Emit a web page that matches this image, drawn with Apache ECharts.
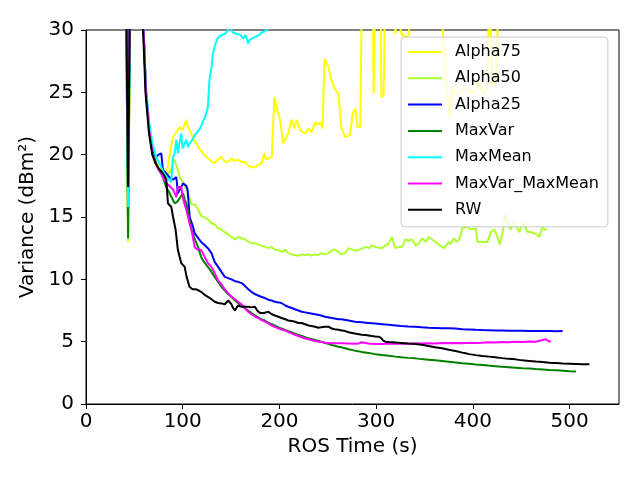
<!DOCTYPE html>
<html>
<head>
<meta charset="utf-8">
<script src="https://cdn.jsdelivr.net/npm/echarts@6/dist/echarts.min.js"></script>
<style>
  html, body { margin: 0; padding: 0; background: #fff; }
  #main { width: 640px; height: 480px; }
</style>
</head>
<body>
<div id="main"></div>
<script>
// [time (s), variance (dBm²)]
var alpha75 = [[40,45],[43.5,13.0],[47,45],[57,36],[59.5,30],[62,25],[65.5,22],[69,20.2],[72.5,19.4],[76,18.9],[79.5,18.5],[83,18.3],[86,19.8],[90,21.4],[93.4,21.8],[96.8,22.2],[100,22.0],[103.7,22.8],[105.5,22.2],[107.2,22.0],[110.7,21.3],[114,20.9],[117,20.5],[121,20.1],[125,19.8],[129,19.5],[133,19.3],[136,19.6],[140,19.8],[143,19.5],[147,19.4],[150,19.7],[154,19.5],[157,19.6],[161,19.4],[165,19.4],[168,19.1],[171,19.0],[175,19.0],[178,19.2],[181.5,19.3],[184,20.1],[186,19.6],[188.5,19.7],[192,19.8],[194.7,24.6],[198,23.5],[200.5,22.8],[204,20.9],[207,21.4],[209,21.7],[212.7,22.8],[215.4,22.1],[217.8,22.8],[221.3,22.0],[224,21.8],[226.5,21.7],[230,22.1],[233.4,21.8],[236.8,22.6],[239,22.4],[242,22.6],[244.5,22.1],[246.5,27.7],[250.7,27.0],[253.5,26.0],[257.6,25.2],[261,24.9],[263.8,22.2],[268,21.4],[273,21.6],[275.6,23.3],[278.3,23.7],[281,22.2],[283.5,22.2],[286,38],[292,40],[296,38],[297.4,24.9],[300,38],[304,38],[305.3,24.6],[307.7,24.8],[310,38],[316,36],[319.8,29.7],[322,31.5],[326,29.7],[330,29.4],[333.6,29.6],[337,33],[345,36],[355,34],[364,35],[368,31],[372,26],[376,23.0],[378.6,25.4],[382,25.0],[385.5,24.9],[389,25.3],[392,25.4],[396,25.0],[399,24.9],[403,25.3],[406,25.9],[409,25.1],[412,24.8],[415,25.5],[417,34],[420,25.5],[424,26],[427,34],[432,38],[440,36]];
var alpha50 = [[40,45],[43.5,13.2],[47,45],[57,36],[59,30],[61,27],[63.5,23.5],[66,21.2],[71,19.3],[76,18.8],[80,18.5],[84,18.3],[88,18.8],[91.5,19.6],[94,19.0],[96.8,18.2],[100,17.8],[103.7,17.2],[106,16.8],[109,16.0],[112.3,16.0],[116,15.6],[119,15.1],[122,15.0],[126,14.8],[129.7,14.5],[133,14.4],[136.6,14.1],[140,14.0],[143,13.8],[147,13.6],[150.4,13.4],[154,13.2],[157,13.4],[160.8,13.3],[165,13.2],[168,13.0],[171,12.9],[175,12.9],[178,12.8],[181,12.7],[185,12.6],[189,12.5],[192,12.6],[195,12.4],[199,12.35],[203,12.2],[206,12.4],[209,12.1],[212.7,12.0],[216,11.95],[220,11.9],[223,12.0],[226.5,11.95],[230,12.0],[233,11.9],[236,12.0],[240,11.95],[243,12.1],[247,12.0],[250.7,12.1],[254,12.3],[257,12.4],[261,12.2],[264,12.0],[268,12.1],[271.5,12.5],[275,12.4],[278,12.3],[282,12.35],[286,12.5],[290,12.6],[293,12.5],[295.6,12.75],[299,12.6],[302,12.55],[306,12.5],[309,12.7],[312,12.8],[314,12.9],[316.4,13.4],[318,13.3],[319.5,12.5],[323,12.6],[327,12.6],[330,13.2],[333.6,13.1],[337,13.2],[341,12.7],[344,12.9],[347.5,13.3],[351,13.0],[354.4,13.4],[358,13.2],[363,12.9],[366,12.7],[370,12.5],[373,12.8],[375,13.0],[377,12.8],[380,13.3],[383,13.0],[386,13.2],[389,14.1],[394,14.2],[398,14.0],[403,14.1],[404.6,13.0],[410,13.0],[415,13.0],[418.4,13.8],[422,14.0],[425.3,13.4],[427.7,12.8],[430.5,13.7],[434,15.3],[436,14.5],[439,14.0],[442.6,14.6],[445,14.2],[448,13.8],[451,14.5],[454,14.2],[456.4,13.8],[460,13.8],[463,13.7],[466,13.6],[468.5,13.4],[472,14.2],[474,14.0],[477,14.0]];
var alpha25 = [[40,45],[43.5,18.0],[47,45],[57,36],[59.5,30],[62,25],[65.5,22],[69,20.3],[72.6,19.8],[75,20.0],[77.8,20.1],[79.5,18.8],[83,18.5],[86,18.2],[90,18.0],[93.4,18.2],[95,16.9],[98.5,17.4],[100.3,17.7],[103.7,17.5],[105,17.2],[107.2,15.0],[110.7,14.2],[112.3,13.7],[116,13.3],[119,13.0],[122,12.8],[126,12.5],[129.7,12.1],[133,11.4],[136.6,11.0],[140,10.6],[143.5,10.2],[147,10.1],[150.4,10.0],[154,9.85],[157,9.8],[160.8,9.7],[164,9.5],[167.7,9.2],[171,9.0],[175,8.8],[178,8.7],[181,8.6],[185,8.5],[189,8.35],[192,8.3],[195,8.2],[199,8.15],[202,8.1],[206,7.9],[209,7.8],[212.7,7.7],[216,7.6],[219.6,7.5],[223,7.4],[226.5,7.35],[230,7.3],[236.8,7.2],[243,7.1],[247,7.0],[254,6.9],[261,6.8],[264,6.8],[271.5,6.7],[278,6.6],[285,6.55],[292,6.5],[299,6.45],[306,6.4],[313,6.35],[320,6.3],[326,6.25],[333,6.22],[340.5,6.2],[347,6.15],[354,6.12],[361,6.1],[368,6.08],[375,6.07],[382,6.05],[389,6.0],[396,5.98],[403,5.95],[409.7,5.93],[416,5.92],[423,5.9],[430,5.9],[437,5.88],[444,5.88],[451,5.88],[458,5.86],[465,5.86],[472,5.85],[479,5.85],[486,5.84],[492.7,5.85]];
var maxVar = [[40,45],[43.5,13.3],[47,45],[57,36],[59.5,30],[62,25],[65.5,22],[69,20.2],[72.6,19.3],[76,18.7],[79.5,18.2],[83,17.4],[86.4,16.9],[89,16.5],[91.6,16.1],[94,16.2],[96.8,16.5],[100.3,16.9],[102,16.4],[104,16.0],[106,15.2],[109,14.0],[112,13.3],[115.8,12.6],[119,11.8],[122,11.4],[126,11.0],[129.7,10.6],[133,10.2],[136.6,9.8],[140,9.4],[143.5,9.1],[147,8.8],[150.4,8.6],[154,8.3],[157,8.1],[160.8,7.9],[164,7.7],[167.7,7.5],[171,7.3],[175,7.1],[178,6.95],[181,6.8],[185,6.7],[189,6.5],[192,6.4],[195,6.3],[199,6.15],[202,6.07],[206,5.95],[209,5.85],[212.7,5.75],[216,5.65],[219.6,5.53],[223,5.45],[226.5,5.35],[230,5.27],[236.8,5.13],[243,5.0],[247,4.9],[254,4.73],[261,4.6],[264,4.55],[271.5,4.39],[278,4.28],[285,4.18],[292,4.1],[299,4.0],[306,3.93],[313,3.87],[320,3.8],[326,3.75],[333,3.7],[340.5,3.66],[347,3.6],[354,3.55],[361,3.5],[368,3.45],[375,3.39],[382,3.33],[389,3.27],[396,3.22],[403,3.17],[409.7,3.13],[416,3.08],[423,3.03],[430,2.98],[437,2.95],[444,2.91],[451,2.87],[458,2.84],[465,2.8],[472,2.77],[479,2.73],[486,2.7],[493,2.67],[500,2.63],[506.5,2.6]];
var maxMean = [[40,45],[43.5,15.8],[47,45],[57,36],[59.5,30],[62,25.5],[65.5,22.5],[69,20.8],[72.6,19.8],[76,19.3],[79.5,18.7],[83,18.2],[86,18.0],[88,17.8],[90,19.8],[91.6,20.1],[93.4,21.2],[95,20.1],[96.8,21.0],[98.5,21.7],[100,20.5],[102,20.5],[103.7,21.2],[105.5,20.6],[107,20.9],[110,21.2],[112,21.5],[114,21.7],[115.8,21.7],[118,22.1],[120,22.5],[123,23.0],[126,23.8],[127.6,26.0],[129.7,27.0],[131,28.0],[133,28.7],[136,29.3],[138,29.5],[140,29.6],[143.5,29.7],[146,29.9],[148,30.3],[150,30.2],[152,29.8],[154,29.9],[156,29.7],[158,29.8],[160,29.6],[162.5,29.3],[165,29.6],[167.7,28.9],[169,29.2],[171,29.2],[174,29.4],[176,29.5],[179,29.6],[181.5,29.8],[185,29.9],[188.5,30.1],[195,31.0]];
var maxVarMaxMean = [[40,45],[43.5,19.0],[47,45],[57,36],[59.5,30],[62,25],[65.5,21.8],[69,20.0],[72.6,19.2],[75,18.8],[77.8,18.5],[80,18.1],[83,17.7],[86,17.5],[90,17.2],[93.4,16.6],[95,17.4],[98.5,17.4],[100,16.6],[102,16.0],[103.7,15.6],[105.5,15.0],[107,14.5],[109,14.0],[112.3,12.6],[115,12.4],[119,12.35],[122,11.9],[126,11.3],[129.7,11.0],[133,10.5],[136.6,9.9],[140,9.6],[143.5,9.2],[147,8.9],[150.4,8.6],[154,8.4],[157,8.2],[160.8,8.0],[164,7.7],[167.7,7.4],[171,7.2],[175,7.0],[178,6.9],[181,6.75],[185,6.6],[189,6.45],[192,6.3],[195,6.2],[199,6.07],[202,5.98],[206,5.9],[209,5.78],[212.7,5.67],[216,5.55],[219.6,5.45],[223,5.35],[226.5,5.25],[230,5.19],[236.8,5.05],[243,4.97],[247,4.92],[254,4.88],[261,4.87],[264.5,4.87],[271.5,4.85],[278,4.83],[282,4.85],[285,4.95],[286,4.82],[292,4.85],[299,4.82],[306,4.81],[313,4.85],[320,4.83],[326,4.86],[333,4.84],[340.5,4.87],[347,4.85],[354,4.88],[361,4.86],[368,4.9],[375,4.87],[382,4.9],[389,4.88],[396,4.92],[403,4.9],[409.7,4.92],[416,4.95],[423,4.93],[430,4.97],[437,4.95],[444,5.0],[451,4.97],[458,5.02],[465,5.0],[470,5.1],[475.4,5.19],[478,5.05],[480.5,5.0]];
var rw = [[40,45],[43.5,17.4],[47,45],[57,36],[59,30],[61.5,25],[65,21.8],[68.5,20.0],[72,19.3],[75,18.9],[79.5,18.5],[83,18.0],[84.7,16.1],[88.2,15.8],[90,15.0],[92.6,14.0],[95,12.35],[98.5,11.3],[102,11.0],[104,10.2],[107,9.4],[110,9.2],[113,9.2],[115.8,9.14],[119,9.0],[122,8.8],[126,8.6],[129.7,8.4],[133,8.2],[136.6,8.1],[140,8.07],[143.5,8.0],[147,8.3],[150.4,8.0],[152,7.7],[154,7.5],[157,7.9],[160.8,7.8],[164,7.8],[167.7,7.8],[171,7.75],[174.6,7.8],[177,7.5],[179.8,7.3],[184,7.3],[188.5,7.4],[192,7.2],[195.3,7.1],[199,7.0],[202,6.9],[206,6.8],[209,6.7],[212.7,6.65],[216,6.6],[219.6,6.5],[223,6.5],[226.5,6.4],[230,6.3],[233,6.25],[236.8,6.2],[240,6.12],[243,6.15],[247,6.2],[250.7,6.2],[254,6.05],[257,6.0],[261,5.95],[264.5,5.9],[268,5.85],[271.5,5.75],[275,5.7],[278,5.65],[282,5.6],[285,5.55],[288.7,5.53],[292,5.5],[295.6,5.45],[299,5.42],[302.5,5.4],[305,5.3],[307,5.1],[309.4,5.0],[313,4.97],[320,4.93],[326,4.9],[333,4.85],[340.5,4.81],[347,4.75],[354,4.65],[361,4.55],[368,4.47],[375,4.35],[382,4.25],[389,4.12],[392.4,4.07],[396,4.0],[403,3.92],[409.7,3.85],[416.7,3.8],[423,3.75],[430,3.68],[437,3.62],[444,3.58],[451,3.5],[458,3.45],[465,3.4],[472,3.36],[479,3.31],[486,3.28],[493,3.25],[500,3.23],[507,3.21],[514,3.19],[520.4,3.18]];

var seriesNames = ['Alpha75', 'Alpha50', 'Alpha25', 'MaxVar', 'MaxMean', 'MaxVar_MaxMean', 'RW'];
var seriesData = [alpha75, alpha50, alpha25, maxVar, maxMean, maxVarMaxMean, rw];
var colors = ['#ffff00', '#adff2f', '#0000ff', '#008000', '#00ffff', '#ff00ff', '#000000'];
var xTicks = [0, 100, 200, 300, 400, 500];

var font = 'DejaVu Sans';
var chart = echarts.init(document.getElementById('main'));

var series = seriesNames.map(function (name, i) {
  return {
    name: name,
    type: 'line',
    data: seriesData[i],
    symbol: 'none',
    color: colors[i],
    lineStyle: { width: 2, color: colors[i] },
    clip: true
  };
});

chart.setOption({
  animation: false,
  backgroundColor: '#fff',
  grid: {
    left: 86, right: 21, top: 30, bottom: 76,
    show: true, borderColor: '#000', borderWidth: 1,
    backgroundColor: 'transparent'
  },
  xAxis: {
    type: 'value',
    min: 0, max: 551,
    name: 'ROS Time (s)',
    nameLocation: 'middle',
    nameGap: 32,
    nameTextStyle: { fontFamily: font, fontSize: 20, color: '#000' },
    axisLine: { lineStyle: { color: '#000', width: 1 } },
    axisTick: { length: 5, lineStyle: { color: '#000' }, customValues: xTicks },
    axisLabel: { fontFamily: font, fontSize: 20, color: '#000', margin: 8, customValues: xTicks },
    splitLine: { show: false }
  },
  yAxis: {
    type: 'value',
    min: 0, max: 30, interval: 5,
    name: 'Variance (dBm²)',
    nameLocation: 'middle',
    nameGap: 42,
    nameTextStyle: { fontFamily: font, fontSize: 20, color: '#000' },
    axisLine: { show: true, lineStyle: { color: '#000', width: 1 } },
    axisTick: { show: true, length: 5, lineStyle: { color: '#000' } },
    axisLabel: { fontFamily: font, fontSize: 20, color: '#000', margin: 12 },
    splitLine: { show: false }
  },
  legend: {
    data: seriesNames,
    orient: 'vertical',
    left: 401,
    top: 37,
    padding: [7, 9, 9, 6],
    itemWidth: 34,
    itemHeight: 16,
    itemGap: 10.3,
    selectedMode: false,
    backgroundColor: 'rgba(255,255,255,0.8)',
    borderColor: '#cccccc',
    borderWidth: 1,
    borderRadius: 4,
    itemStyle: { opacity: 0 },
    lineStyle: { width: 2 },
    textStyle: { fontFamily: font, fontSize: 16, color: '#000', lineHeight: 16, padding: [0, 0, 0, 8] }
  },
  series: series
});
</script>
</body>
</html>
